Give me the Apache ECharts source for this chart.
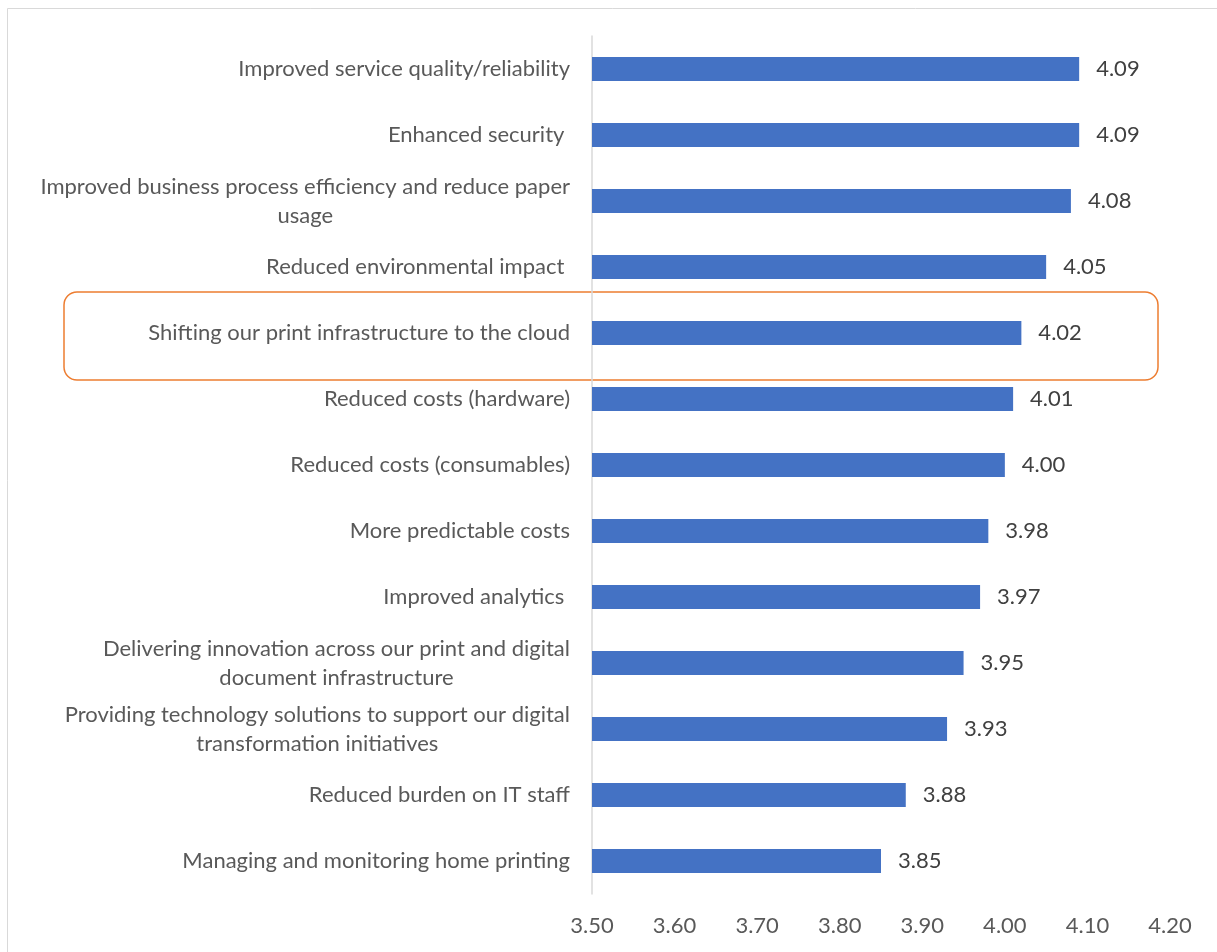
<!DOCTYPE html>
<html>
<head>
<meta charset="utf-8">
<script src="https://cdn.jsdelivr.net/npm/echarts@6/dist/echarts.min.js"></script>
<style>
  html, body { margin: 0; padding: 0; background: #fff; }
  #chart { width: 1217px; height: 952px; }
</style>
</head>
<body>
<div id="chart"></div>
<script>
// categories, top to bottom
var categories = [
  'Improved service quality/reliability',
  'Enhanced security ',
  'Improved business process efficiency and reduce paper\nusage',
  'Reduced environmental impact ',
  'Shifting our print infrastructure to the cloud',
  'Reduced costs (hardware)',
  'Reduced costs (consumables)',
  'More predictable costs',
  'Improved analytics ',
  'Delivering innovation across our print and digital\ndocument infrastructure',
  'Providing technology solutions to support our digital\ntransformation initiatives',
  'Reduced burden on IT staff',
  'Managing and monitoring home printing'
];
var scores = [4.09, 4.09, 4.08, 4.05, 4.02, 4.01, 4.00, 3.98, 3.97, 3.95, 3.93, 3.88, 3.85];
var axisMin = 3.5;
var axisMax = 4.2;
var axisStep = 0.1;

var myChart = echarts.init(document.getElementById('chart'));
var textFont = 'Lato';
var textSize = 22;

var option = {
  backgroundColor: '#fff',
  animation: false,
  grid: { left: 592, right: 47, top: 36, bottom: 58 },
  xAxis: {
    type: 'value',
    min: axisMin,
    max: axisMax,
    interval: axisStep,
    axisLine: { show: false },
    axisTick: { show: false },
    splitLine: { show: false },
    axisLabel: {
      margin: 21,
      color: '#595959',
      fontFamily: textFont,
      fontSize: textSize,
      formatter: function (v) { return v.toFixed(2); }
    }
  },
  yAxis: {
    type: 'category',
    inverse: true,
    data: categories,
    axisLine: { lineStyle: { color: '#d9d9d9', width: 1.5 } },
    axisTick: { show: false },
    axisLabel: {
      margin: 22,
      color: '#595959',
      fontFamily: textFont,
      fontSize: textSize,
      lineHeight: 29,
      // centre the wrapped lines inside each label block
      formatter: function (v) {
        return v.split('\n').map(function (s) { return '{c|' + s + '}'; }).join('\n');
      },
      rich: {
        c: { align: 'center', color: '#595959', fontFamily: textFont, fontSize: textSize, lineHeight: 29 }
      }
    }
  },
  series: [{
    type: 'bar',
    data: scores,
    barWidth: '36%',
    itemStyle: { color: '#4472c4' },
    label: {
      show: true,
      position: 'right',
      distance: 17,
      color: '#404040',
      fontFamily: textFont,
      fontSize: textSize,
      formatter: function (p) { return p.value.toFixed(2); }
    }
  }],
  graphic: [
    {
      type: 'rect',
      shape: { x: 7.5, y: 8.5, width: 1240, height: 980 },
      style: { fill: 'none', stroke: '#d9d9d9', lineWidth: 1 },
      silent: true
    },
    {
      // highlight box round the cloud row
      type: 'rect',
      shape: { x: 64, y: 292, width: 1094, height: 88, r: 13 },
      style: { fill: 'none', stroke: '#ed7d31', lineWidth: 1.5 },
      silent: true
    }
  ]
};
myChart.setOption(option);
</script>
</body>
</html>
